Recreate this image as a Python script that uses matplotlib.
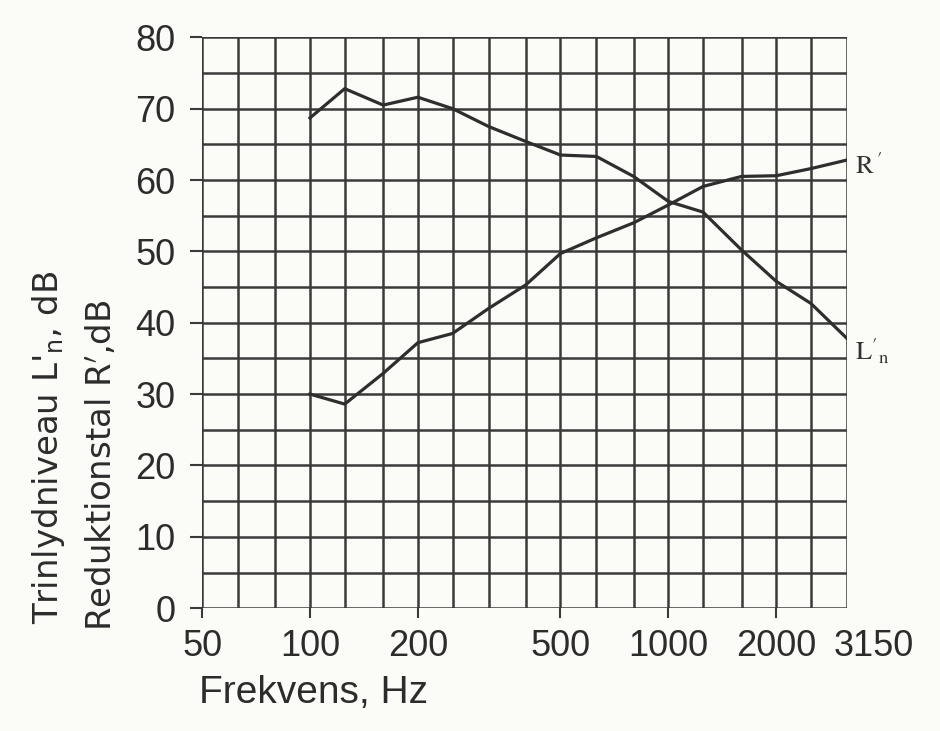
import matplotlib
matplotlib.use("Agg")
import matplotlib.pyplot as plt
import matplotlib.transforms as mtransforms

# 1/3-octave band frequencies
freqs = [100, 125, 160, 200, 250, 315, 400, 500, 630, 800, 1000, 1250, 1600, 2000, 2500, 3150]
Ln = [68.7, 72.8, 70.5, 71.6, 70.0, 67.5, 65.4, 63.5, 63.3, 60.5, 57.0, 55.5, 50.2, 45.8, 42.7, 37.8]
R = [30.0, 28.6, 32.9, 37.2, 38.5, 42.0, 45.3, 49.7, 51.9, 54.0, 56.5, 59.1, 60.5, 60.6, 61.6, 62.8]

grid_freqs = [50, 63, 80, 100, 125, 160, 200, 250, 315, 400, 500, 630, 800,
              1000, 1250, 1600, 2000, 2500, 3150]
xtick_vals = [50, 100, 200, 500, 1000, 2000, 3150]
xtick_labels = ["50", "100", "200", "500", "1000", "2000", "3150"]
ytick_vals = [0, 10, 20, 30, 40, 50, 60, 70, 80]

bg = "#fbfbf8"
ink = "#3a3a3a"
txt = "#2c2c2c"

fig = plt.figure(figsize=(9.40, 7.31), dpi=100, facecolor=bg)
ax = fig.add_axes([0.215, 0.168, 0.686, 0.781])
ax.set_facecolor(bg)
ax.set_xscale("log")
ax.set_xlim(50, 3150)
ax.set_ylim(0, 80)

for f in grid_freqs:
    ax.axvline(f, color=ink, lw=1.8, zorder=1)
for y in range(0, 81, 5):
    ax.axhline(y, color=ink, lw=1.8, zorder=1)

for s in ax.spines.values():
    s.set_visible(False)

ax.plot(freqs, Ln, color="#2e2e2e", lw=2.3, zorder=3)
ax.plot(freqs, R, color="#2e2e2e", lw=2.3, zorder=3)

ax.xaxis.set_minor_locator(matplotlib.ticker.NullLocator())
ax.xaxis.set_minor_formatter(matplotlib.ticker.NullFormatter())
ax.set_xticks(xtick_vals)
ax.set_xticklabels(xtick_labels)
ax.set_yticks(ytick_vals)
ax.set_yticklabels([str(v) for v in ytick_vals])

fam = ["Liberation Sans", "DejaVu Sans"]
ax.tick_params(axis="x", length=7, width=1.5, color=ink, pad=8, labelsize=26,
               labelcolor=txt)
ax.tick_params(axis="y", length=9, width=1.5, color=ink, pad=10, labelsize=26,
               labelcolor=txt)
for lab in ax.get_xticklabels() + ax.get_yticklabels():
    lab.set_family(fam)
# no tick mark at 3150; label sits right of the axis end
ax.xaxis.get_major_ticks()[-1].tick1line.set_visible(False)
lbl = ax.get_xticklabels()[-1]
lbl.set_transform(lbl.get_transform() +
                  mtransforms.ScaledTranslation(27 / 100, 0, fig.dpi_scale_trans))

fig.text(0.333, 0.038, "Frekvens, Hz", fontsize=28, family=fam, color=txt,
         ha="center", va="baseline")
fig.text(0.052, 0.147, "Trinlydniveau L$'_{\\mathregular{n}}$, dB", fontsize=24.5,
         family="DejaVu Sans", color=txt, rotation=90, ha="center", va="bottom")
fig.text(0.108, 0.137, "Reduktionstal R$'$,dB", fontsize=24.5,
         family="DejaVu Sans", color=txt, rotation=90, ha="center", va="bottom")

ax.text(1.012, 61.9, "$\\mathrm{R}\\,'$", transform=ax.get_yaxis_transform(),
        fontsize=19, math_fontfamily="stix", color="#333333", va="center", ha="left")
ax.text(1.012, 36.0, "$\\mathrm{L}'_{\\mathrm{n}}$", transform=ax.get_yaxis_transform(),
        fontsize=19, math_fontfamily="stix", color="#333333", va="center", ha="left")

fig.savefig("out.png", dpi=100, facecolor=bg)
